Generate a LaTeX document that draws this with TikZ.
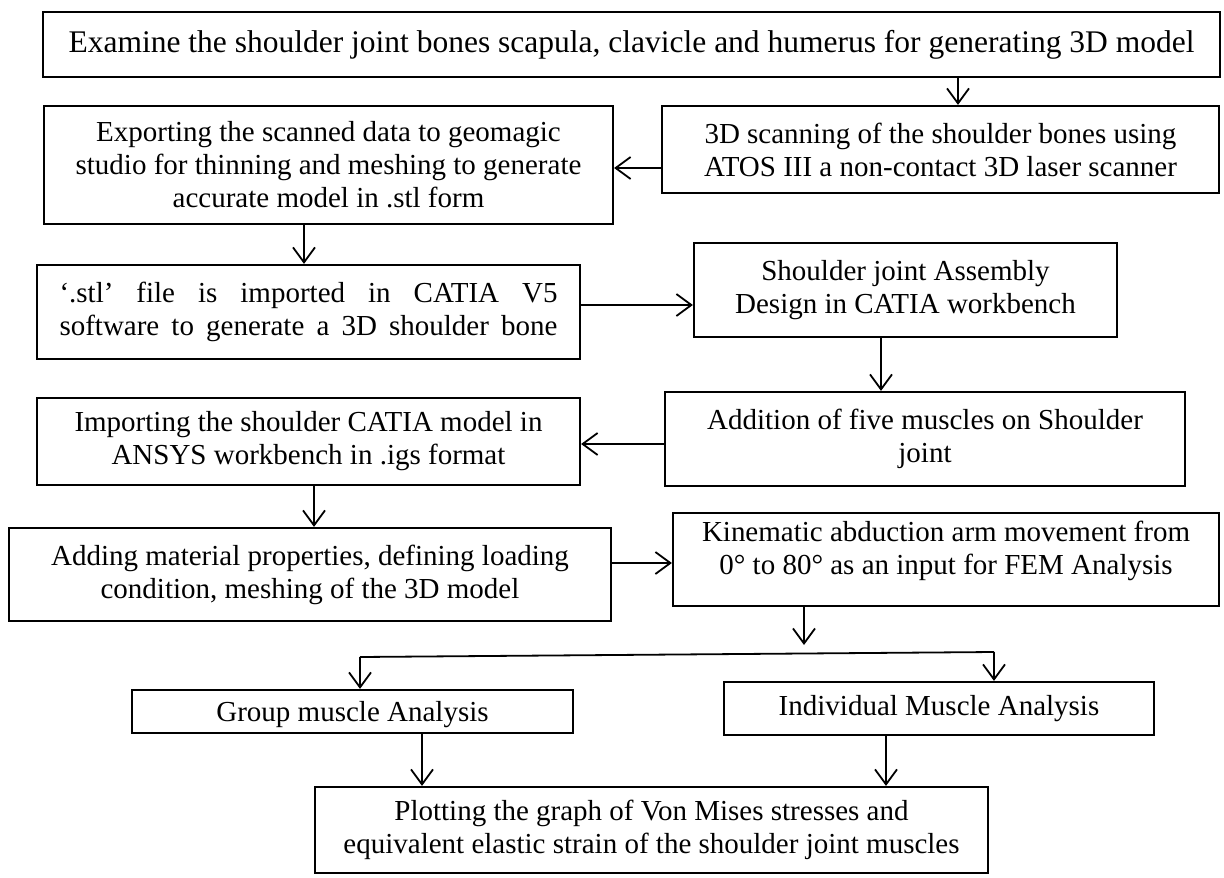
\documentclass[tikz,border=0pt]{standalone}
\usepackage{fontspec}
\setmainfont{Liberation Serif}
\usetikzlibrary{arrows.meta}
\begin{document}
\begin{tikzpicture}[x=1pt,y=-1pt,
  box/.style={draw, line width=2.2pt, rectangle, inner sep=0pt, align=center,
    font=\fontsize{29}{33}\selectfont},
  txt/.style={inner sep=0pt, align=center, font=\fontsize{29}{33}\selectfont},
  arr/.style={line width=1.8pt, -{Straight Barb[length=15pt,width=22pt,line width=1.8pt]}},
  plain/.style={line width=1.8pt}]
\useasboundingbox (0,0) rectangle (1224,878);
\fill[white] (0,0) rectangle (1224,878);

\node[box, minimum width=1177pt, minimum height=65pt, font=\fontsize{31.5}{35}\selectfont] (n1) at (631.5,44.5)
  {Examine the shoulder joint bones scapula, clavicle and humerus for generating 3D model};
\node[box, minimum width=557pt, minimum height=87pt] (n3d) at (940.5,149.5)
  {3D scanning of the shoulder bones using\\ATOS III a non-contact 3D laser scanner};
\node[box, minimum width=569pt, minimum height=118pt] (nexp) at (328.5,165)
  {Exporting the scanned data to geomagic\\studio for thinning and meshing to generate\\accurate model in .stl form};
\node[box, minimum width=543pt, minimum height=94pt] (nstl) at (308.5,312)
  {\makebox[498pt][s]{`.stl' file is imported in CATIA V5}\\\makebox[498pt][s]{software to generate a 3D shoulder bone}};
\node[box, minimum width=423pt, minimum height=94pt] (nasm) at (905.5,290)
  {Shoulder joint Assembly\\Design in CATIA workbench};
\node[box, minimum width=520pt, minimum height=94pt] (nadd) at (925,439)
  {Addition of five muscles on Shoulder\\joint};
\node[box, minimum width=543pt, minimum height=87pt] (nimp) at (308.5,441.5)
  {Importing the shoulder CATIA model in\\ANSYS workbench in .igs format};
\node[box, minimum width=602pt, minimum height=93pt] (nmat) at (310,574.5)
  {Adding material properties, defining loading\\condition, meshing of the 3D model};
\node[box, minimum width=546pt, minimum height=93pt] (nkin) at (946,559.5) {};
\node[txt] (nkintxt) at (946,551)
  {Kinematic abduction arm movement from\\0° to 80° as an input for FEM Analysis};
\node[box, minimum width=441pt, minimum height=43pt] (ngrp) at (352.5,711.5) {};
\node[txt] (ngrptxt) at (352.5,715) {Group muscle Analysis};
\node[box, minimum width=430pt, minimum height=53pt] (nind) at (939,708.5)
  {Individual Muscle Analysis};
\node[box, minimum width=673pt, minimum height=86pt] (nplt) at (651.5,830)
  {Plotting the graph of Von Mises stresses and\\equivalent elastic strain of the shoulder joint muscles};

\coordinate (c1) at (958,0);
\coordinate (c2) at (0,168);
\coordinate (c3) at (304,0);
\coordinate (c4) at (0,305);
\coordinate (c5) at (881,0);
\coordinate (c6) at (0,444);
\coordinate (c7) at (314,0);
\coordinate (c8) at (0,563);
\coordinate (k9) at (804,645);
\coordinate (bl) at (360,657);
\coordinate (br) at (994,652);
\coordinate (c11) at (422,0);
\coordinate (c12) at (886,0);

\draw[arr] (n1.south -| c1) -- (n3d.north -| c1);
\draw[arr] (n3d.west |- c2) -- (nexp.east |- c2);
\draw[arr] (nexp.south -| c3) -- (nstl.north -| c3);
\draw[arr] (nstl.east |- c4) -- (nasm.west |- c4);
\draw[arr] (nasm.south -| c5) -- (nadd.north -| c5);
\draw[arr] (nadd.west |- c6) -- (nimp.east |- c6);
\draw[arr] (nimp.south -| c7) -- (nmat.north -| c7);
\draw[arr] (nmat.east |- c8) -- (nkin.west |- c8);
\draw[arr] (nkin.south -| k9) -- (k9);
\draw[plain] (bl) -- (br);
\draw[arr] (bl) -- (bl |- ngrp.north);
\draw[arr] (br) -- (br |- nind.north);
\draw[arr] (ngrp.south -| c11) -- (nplt.north -| c11);
\draw[arr] (nind.south -| c12) -- (nplt.north -| c12);
\end{tikzpicture}
\end{document}
